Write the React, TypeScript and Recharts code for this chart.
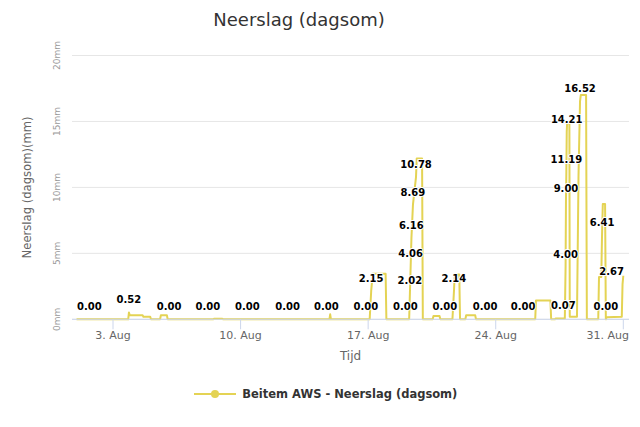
import React from 'react';
import { LineChart, Line, XAxis, YAxis, CartesianGrid, Legend, LabelList } from 'recharts';

// hours since 1 Aug 00:00
const hours = [
  0, 17, 68, 69, 70, 87, 88, 97, 98, 110, 111, 119, 120, 122, 173, 180, 181, 192, 193,
  225, 278, 329, 333, 334, 335, 381, 386, 388, 390, 407, 408,
  433, 438, 439, 440, 441, 443, 447, 448, 455, 456, 469, 470, 478, 479,
  485, 495, 497, 498, 504, 505, 512, 513, 525, 526, 538, 588,
  604, 605, 624, 625, 630, 631, 641, 643, 644, 644.5, 645, 645.5, 646, 649, 649.5,
  659, 661, 663, 664, 671, 672, 687, 688, 691, 692, 693, 696, 697, 698, 718, 719, 720,
];
// rolling daily rain sum (mm)
const rain = [
  0, 0, 0, 0.52, 0.3, 0.3, 0.2, 0.2, 0, 0, 0.3, 0.3, 0, 0, 0, 0, 0.05, 0.05, 0,
  0, 0, 0, 0, 0.38, 0, 0, 0, 2.15, 3.45, 3.45, 0,
  0, 0, 2.02, 4.06, 6.16, 8.69, 10.78, 12.2, 12.2, 0, 0, 0.25, 0.25, 0,
  0, 0, 2.14, 3.4, 3.4, 0, 0, 0.3, 0.3, 0, 0, 0,
  0, 1.43, 1.43, 0, 0, 0.07, 0.07, 0.07, 4.0, 9.0, 11.19, 14.21, 14.86, 14.86, 0.2,
  0.2, 10.8, 16.52, 17.0, 17.0, 0, 0, 3.2, 3.2, 6.41, 8.74, 8.74, 0, 0.15, 0.2, 2.67, 3.3,
];
// points whose value label is shown
const labelHours = [
  17, 69, 122, 173, 225, 278, 329, 381, 388, 433, 439, 440, 441, 443, 447,
  485, 497, 538, 588, 641, 644, 644.5, 645, 645.5, 663, 692, 697, 719,
];
const xTicks = [48, 216, 384, 552, 720];
const xTickLabels = ['3. Aug', '10. Aug', '17. Aug', '24. Aug', '31. Aug'];
const yTicks = [0, 5, 10, 15, 20];
const chartTitle = 'Neerslag (dagsom)';
const yTitle = 'Neerslag (dagsom)(mm)';
const xTitle = 'Tijd';
const seriesName = 'Beitem AWS - Neerslag (dagsom)';

const data = hours.map((h, i) => ({ h, v: rain[i] }));
const labelSet = new Set(labelHours);

const W = 632;
const HGT = 419;
const PLOT_RIGHT = 621;
const COLOR = '#e4d354';
const FONT = '"DejaVu Sans", Verdana, sans-serif';

function DataLabel(props: any) {
  const vb = props.viewBox || {};
  const x = props.x ?? vb.x;
  const y = props.y ?? vb.y;
  const idx = props.index;
  const h = idx !== undefined ? hours[idx] : props.payload?.h;
  if (!labelSet.has(h)) return null;
  const text = Number(props.value).toFixed(2);
  const w = text.length * 6.2;
  const cx = Math.min(x, PLOT_RIGHT - 5 - w / 2);
  return (
    <text
      x={cx}
      y={y - 9}
      textAnchor="middle"
      fontFamily={FONT}
      fontSize={10}
      fontWeight="bold"
      fill="#000"
      stroke="#fff"
      strokeWidth={2}
      strokeLinejoin="round"
      paintOrder="stroke"
    >
      {text}
    </text>
  );
}

function YTick(props: any) {
  const { x, y, payload } = props;
  return (
    <text
      x={x}
      y={y}
      transform={`rotate(-90, ${x}, ${y})`}
      textAnchor="middle"
      dy="0.35em"
      fill="#999"
      fontSize={9}
      fontFamily={FONT}
    >
      {payload.value}mm
    </text>
  );
}

function XTick(props: any) {
  const { x, y, payload } = props;
  const i = xTicks.indexOf(payload.value);
  const label = xTickLabels[i];
  const w = label.length * 6.1;
  const overflow = x + w / 2 > PLOT_RIGHT;
  return (
    <text
      x={overflow ? PLOT_RIGHT : x}
      y={y}
      dy="0.71em"
      textAnchor={overflow ? 'end' : 'middle'}
      fill="#666"
      fontSize={11}
      fontFamily={FONT}
    >
      {label}
    </text>
  );
}

function YTitle(props: any) {
  const vb = props.viewBox || { y: 47.5, height: 264 };
  const cx = 18.7;
  const cy = vb.y + vb.height / 2;
  return (
    <text
      x={cx}
      y={cy}
      transform={`rotate(-90, ${cx}, ${cy})`}
      textAnchor="middle"
      dy="0.36em"
      fill="#666"
      fontSize={11.6}
      fontFamily={FONT}
    >
      {yTitle}
    </text>
  );
}

function XTitle(props: any) {
  const vb = props.viewBox || { x: 64, y: 311.3, width: 557 };
  return (
    <text x={vb.x + vb.width / 2} y={vb.y + 41} textAnchor="middle" fill="#666" fontSize={12} fontFamily={FONT}>
      {xTitle}
    </text>
  );
}

function LegendContent() {
  return (
    <div
      style={{
        width: W,
        height: 20,
        display: 'flex',
        justifyContent: 'center',
        alignItems: 'center',
        paddingLeft: 3,
        boxSizing: 'border-box',
      }}
    >
      <svg width={42} height={12} style={{ display: 'block' }}>
        <line x1={0} y1={6} x2={42} y2={6} stroke={COLOR} strokeWidth={2} />
        <circle cx={21} cy={6} r={4} fill={COLOR} />
      </svg>
      <span
        style={{
          marginLeft: 6.7,
          fontFamily: FONT,
          fontSize: 11.5,
          fontWeight: 'bold',
          color: '#333',
          whiteSpace: 'nowrap',
        }}
      >
        {seriesName}
      </span>
    </div>
  );
}

export default function App() {
  return (
    <div style={{ position: 'relative', width: W, height: HGT, fontFamily: FONT }}>
      <div
        style={{
          position: 'absolute',
          left: 0,
          top: 1,
          width: 582,
          textAlign: 'center',
          fontFamily: FONT,
          fontSize: 18,
          lineHeight: '21px',
          color: '#333',
          zIndex: 2,
        }}
      >
        {chartTitle}
      </div>
      <LineChart width={W} height={HGT} data={data} margin={{ top: 47.5, right: 11, left: 0, bottom: 23 }}>
        <CartesianGrid vertical={false} stroke="#e6e6e6" />
        <XAxis
          dataKey="h"
          type="number"
          domain={[-6, 727.5]}
          ticks={xTicks}
          interval={0}
          tick={<XTick />}
          tickSize={10}
          tickMargin={1.5}
          height={64.7}
          stroke="#ccd6eb"
          axisLine={{ stroke: '#ccd6eb' }}
          tickLine={{ stroke: '#ccd6eb' }}
          label={(p: any) => <XTitle {...p} />}
        />
        <YAxis
          type="number"
          domain={[0, 20]}
          ticks={yTicks}
          interval={0}
          width={64}
          axisLine={false}
          tickLine={false}
          tickSize={0}
          tickMargin={15.3}
          tick={<YTick />}
          label={(p: any) => <YTitle {...p} />}
        />
        <Legend verticalAlign="bottom" height={20} content={<LegendContent />} wrapperStyle={{ left: 0, width: W }} />
        <Line
          dataKey="v"
          name={seriesName}
          type="linear"
          stroke={COLOR}
          strokeWidth={2}
          strokeLinejoin="round"
          dot={false}
          activeDot={false}
          isAnimationActive={false}
        >
          <LabelList dataKey="v" content={DataLabel} />
        </Line>
      </LineChart>
    </div>
  );
}
